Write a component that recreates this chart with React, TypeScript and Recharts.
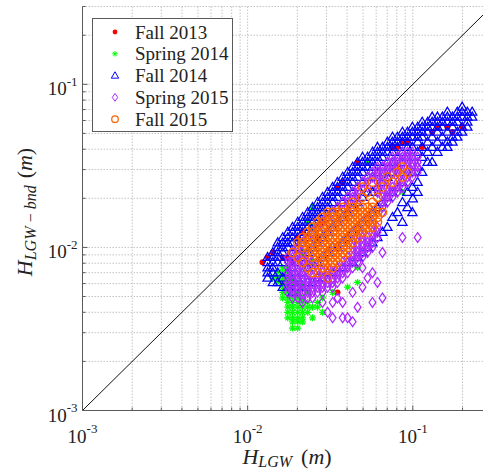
import React from "react";
import {
  CartesianGrid,
  Legend,
  ReferenceLine,
  Scatter,
  ScatterChart,
  XAxis,
  YAxis,
} from "recharts";

type Pt = [number, number];
type Col = [number, number[]]; // one H_LGW value with its H_LGW-bnd values
type Row = [number, number[]]; // one H_LGW-bnd value with its H_LGW values

// values in metres
const fall2013: Pt[] = [
  [0.0123, 0.0081], [0.0132, 0.0087], [0.0163, 0.0087], [0.0175, 0.0087],
  [0.0187, 0.0081], [0.0163, 0.0061], [0.0175, 0.0065], [0.0215, 0.0093],
  [0.0201, 0.0115], [0.035, 0.0053], [0.0865, 0.0443], [0.0928, 0.0443],
  [0.114, 0.0412], [0.141, 0.0547], [0.131, 0.051], [0.0463, 0.0333],
  [0.035, 0.0234], [0.0807, 0.0412], [0.162, 0.0547], [0.174, 0.051],
  [0.199, 0.0547], [0.0187, 0.0061], [0.0284, 0.0143], [0.0265, 0.0115],
  [0.0142, 0.0093], [0.0215, 0.0124], [0.0376, 0.0251], [0.0753, 0.0412],
];

const spring2014: Row[] = [
  [0.0176, [0.0247]],
  [0.0143, [0.0231]],
  [0.0133, [0.0247]],
  [0.0093, [0.0215]],
  [0.0081, [0.0247]],
  [0.0075, [0.0163, 0.0175, 0.0463]],
  [0.007, [0.0152, 0.0163, 0.0175]],
  [0.0065, [0.0142, 0.0152, 0.0163, 0.0175, 0.0187]],
  [0.0061, [0.0152, 0.0163, 0.0175, 0.0201, 0.0463]],
  [0.0057, [0.0163, 0.0175, 0.0187, 0.0215, 0.0403]],
  [0.0053, [0.0163, 0.0175, 0.0187, 0.0201, 0.0231, 0.0327]],
  [0.0049, [0.0163, 0.0175, 0.0187, 0.0201, 0.0215, 0.0284]],
  [0.0046, [0.0175, 0.0187, 0.0201, 0.0215, 0.0231, 0.0265]],
  [0.0043, [0.0175, 0.0187, 0.0201, 0.0215, 0.0231, 0.0247, 0.0265]],
  [0.004, [0.0175, 0.0187, 0.0201, 0.0215, 0.0231, 0.0284]],
  [0.0037, [0.0175, 0.0187, 0.0201, 0.0215, 0.0247]],
  [0.0035, [0.0187, 0.0201, 0.0215]],
  [0.0032, [0.0187, 0.0201]],
  [0.0333, [0.0532]],
  [0.0218, [0.0865]],
];

const fall2014: Col[] = [
  [0.0132, [0.0087, 0.0081, 0.0075, 0.007, 0.0065]],
  [0.0142, [0.0093, 0.0087, 0.0081, 0.0075, 0.007, 0.0061]],
  [0.0152, [0.0107, 0.01, 0.0093, 0.0087, 0.0081, 0.007, 0.0061]],
  [0.0163, [0.0115, 0.0107, 0.01, 0.0093, 0.0081, 0.0065, 0.0057]],
  [0.0175, [0.0124, 0.0115, 0.0107, 0.01, 0.0087, 0.007, 0.0057]],
  [0.0187, [0.0133, 0.0124, 0.0115, 0.0107, 0.0093, 0.0075, 0.0061, 0.0053]],
  [0.0201, [0.0143, 0.0133, 0.0124, 0.0115, 0.01, 0.0081, 0.0065, 0.0057]],
  [0.0215, [0.0153, 0.0143, 0.0133, 0.0124, 0.0107, 0.0087, 0.007, 0.0057]],
  [0.0231, [0.0164, 0.0153, 0.0143, 0.0133, 0.0115, 0.0093, 0.0075, 0.0061]],
  [0.0247, [0.0176, 0.0164, 0.0153, 0.0143, 0.0124, 0.01, 0.0081, 0.0061]],
  [0.0265, [0.0189, 0.0176, 0.0164, 0.0153, 0.0133, 0.0107, 0.0081, 0.0065]],
  [0.0284, [0.0203, 0.0189, 0.0176, 0.0164, 0.0143, 0.0115, 0.0087, 0.0065]],
  [0.0305, [0.0218, 0.0203, 0.0189, 0.0176, 0.0153, 0.0124, 0.0093, 0.007]],
  [0.0327, [0.0234, 0.0218, 0.0203, 0.0189, 0.0164, 0.0133, 0.01, 0.007]],
  [0.035, [0.0251, 0.0234, 0.0218, 0.0203, 0.0176, 0.0143, 0.01, 0.0075]],
  [0.0376, [0.027, 0.0251, 0.0234, 0.0218, 0.0189, 0.0153, 0.0107, 0.0075]],
  [0.0403, [0.0289, 0.027, 0.0251, 0.0234, 0.0203, 0.0164, 0.0115, 0.0081]],
  [0.0432, [0.0311, 0.0289, 0.027, 0.0251, 0.0218, 0.0176, 0.0124, 0.0081]],
  [0.0463, [0.0333, 0.0311, 0.0289, 0.027, 0.0234, 0.0189, 0.0133, 0.0087]],
  [0.0496, [0.0358, 0.0333, 0.0311, 0.0289, 0.0251, 0.0203, 0.0143, 0.0093]],
  [0.0532, [0.0358, 0.0333, 0.0311, 0.027, 0.0218, 0.0153, 0.01]],
  [0.057, [0.0384, 0.0358, 0.0333, 0.0311, 0.027, 0.0218, 0.0164, 0.0107]],
  [0.0611, [0.0412, 0.0384, 0.0358, 0.0333, 0.0289, 0.0234, 0.0176, 0.0115]],
  [0.0655, [0.0412, 0.0384, 0.0358, 0.0311, 0.0251, 0.0189, 0.0124]],
  [0.0702, [0.0443, 0.0412, 0.0384, 0.0333, 0.027, 0.0203, 0.0133]],
  [0.0753, [0.0475, 0.0443, 0.0412, 0.0384, 0.0333, 0.0289, 0.0218, 0.0153]],
  [0.0807, [0.0475, 0.0443, 0.0412, 0.0358, 0.0311, 0.0234, 0.0164]],
  [0.0865, [0.051, 0.0475, 0.0443, 0.0384, 0.0333, 0.0251, 0.0189, 0.0143]],
  [0.0928, [0.051, 0.0475, 0.0443, 0.0412, 0.0358, 0.0289, 0.0218, 0.0176]],
  [0.0994, [0.0547, 0.051, 0.0475, 0.0412, 0.0358, 0.0289, 0.0234, 0.0164]],
  [0.1, [0.0199]],
  [0.107, [0.0547, 0.051, 0.0475, 0.0443, 0.0384, 0.0311, 0.0251, 0.0218]],
  [0.114, [0.0587, 0.0547, 0.051, 0.0475, 0.0412, 0.0358, 0.0289]],
  [0.123, [0.0587, 0.0547, 0.051, 0.0443, 0.0384, 0.0333]],
  [0.131, [0.0631, 0.0587, 0.0547, 0.0475, 0.0412, 0.0333]],
  [0.141, [0.0631, 0.0587, 0.0547, 0.051, 0.0443, 0.0384]],
  [0.151, [0.0631, 0.0587, 0.0547, 0.0475, 0.0412]],
  [0.162, [0.0677, 0.0631, 0.0587, 0.051, 0.0443, 0.0412]],
  [0.174, [0.0631, 0.0587, 0.0547, 0.0475, 0.0443]],
  [0.186, [0.0677, 0.0631, 0.0587, 0.051, 0.0475]],
  [0.199, [0.0727, 0.0677, 0.0631, 0.0547, 0.051]],
  [0.214, [0.0677, 0.0631, 0.0587, 0.0547]],
  [0.229, [0.0677, 0.0631]],
];

const spring2015: Col[] = [
  [0.0175, [0.0087, 0.0081, 0.0075, 0.007, 0.0065, 0.0061, 0.0057, 0.0053]],
  [0.0187, [0.0093, 0.0087, 0.0081, 0.0075, 0.007, 0.0065, 0.0061, 0.0057, 0.0053, 0.0049]],
  [0.0201, [0.01, 0.0093, 0.0087, 0.0081, 0.0075, 0.007, 0.0065, 0.0061, 0.0057, 0.0053, 0.0049]],
  [0.0215, [0.0107, 0.0093, 0.0087, 0.0081, 0.0075, 0.007, 0.0065, 0.0061, 0.0057, 0.0053, 0.0049, 0.0046]],
  [0.0231, [0.0115, 0.0087, 0.0081, 0.007, 0.0065, 0.0061, 0.0057, 0.0053, 0.0049]],
  [0.0247, [0.0124, 0.0081, 0.0075, 0.0065, 0.0061, 0.0057, 0.0053, 0.0049]],
  [0.0265, [0.0133, 0.0075, 0.007, 0.0065, 0.0061, 0.0057, 0.0053]],
  [0.0284, [0.0143, 0.007, 0.0065, 0.0061, 0.0057, 0.0053, 0.0046]],
  [0.0305, [0.0153, 0.0075, 0.007, 0.0065, 0.0061, 0.0057, 0.004]],
  [0.0327, [0.0164, 0.007, 0.0065, 0.0061, 0.0057, 0.0046, 0.0037]],
  [0.035, [0.0176, 0.0075, 0.007, 0.0065, 0.0061, 0.0049]],
  [0.0376, [0.0189, 0.0081, 0.0075, 0.007, 0.0065, 0.0046, 0.0037]],
  [0.0403, [0.0203, 0.0189, 0.0176, 0.0087, 0.0081, 0.0075, 0.007, 0.0037]],
  [0.0432, [0.0218, 0.0203, 0.0107, 0.01, 0.0093, 0.0087, 0.0081, 0.0075, 0.0053, 0.0035]],
  [0.0463, [0.0234, 0.0218, 0.0203, 0.0189, 0.0115, 0.0107, 0.01, 0.0093, 0.0087, 0.0081, 0.0043]],
  [0.0496, [0.0251, 0.0124, 0.0115, 0.0107, 0.01, 0.0093, 0.0087, 0.0075, 0.0057]],
  [0.0532, [0.027, 0.0251, 0.0234, 0.0115, 0.0107, 0.01, 0.0093, 0.0065]],
  [0.057, [0.0289, 0.027, 0.0143, 0.0133, 0.0124, 0.0115, 0.0107, 0.01, 0.007, 0.0046]],
  [0.0611, [0.0311, 0.0289, 0.027, 0.0251, 0.0234, 0.0218, 0.0133, 0.0124, 0.0115, 0.0061]],
  [0.0655, [0.0311, 0.0289, 0.027, 0.0251, 0.0218, 0.0203, 0.0189, 0.0176, 0.0164, 0.0093, 0.0049]],
  [0.0702, [0.0333, 0.0311, 0.0289, 0.0251, 0.0234, 0.0218, 0.0203, 0.0189]],
  [0.0753, [0.0358, 0.0333, 0.0311, 0.0289, 0.0234, 0.0218, 0.0203]],
  [0.0807, [0.0358, 0.0333, 0.0311, 0.0289, 0.027, 0.0251, 0.0234, 0.0218]],
  [0.0865, [0.0384, 0.0358, 0.0333, 0.0289, 0.0251, 0.0234, 0.0115]],
  [0.0928, [0.0384, 0.0358, 0.0333, 0.0311, 0.027, 0.0251]],
  [0.0994, [0.0384, 0.0358, 0.0333, 0.0311, 0.0289, 0.027]],
  [0.107, [0.0358, 0.0333, 0.0311, 0.0289, 0.0115]],
];

const fall2015: Row[] = [
  [0.0176, [0.0376, 0.0432, 0.0463, 0.0496, 0.0532, 0.057]],
  [0.0164, [0.0305, 0.0327, 0.035, 0.0376, 0.0403, 0.0432, 0.0463, 0.0496, 0.0532, 0.057, 0.0611, 0.0655]],
  [0.0153, [0.0284, 0.0305, 0.0327, 0.035, 0.0376, 0.0403, 0.0432, 0.0463, 0.0496, 0.0532, 0.057, 0.0611]],
  [0.0143, [0.0265, 0.0284, 0.0305, 0.0327, 0.035, 0.0376, 0.0403, 0.0432, 0.0463, 0.0496, 0.0532, 0.057, 0.0611]],
  [0.0133, [0.0247, 0.0265, 0.0284, 0.0305, 0.0327, 0.035, 0.0376, 0.0403, 0.0432, 0.0463, 0.0496, 0.0532, 0.057]],
  [0.0124, [0.0231, 0.0247, 0.0265, 0.0284, 0.0305, 0.0327, 0.035, 0.0376, 0.0403, 0.0432, 0.0463, 0.0496, 0.0532]],
  [0.0115, [0.0215, 0.0231, 0.0247, 0.0265, 0.0284, 0.0305, 0.0327, 0.035, 0.0376, 0.0403, 0.0432, 0.0463]],
  [0.0107, [0.0201, 0.0215, 0.0231, 0.0247, 0.0265, 0.0284, 0.0305, 0.0327, 0.035, 0.0376, 0.0403, 0.0432]],
  [0.01, [0.0215, 0.0231, 0.0247, 0.0265, 0.0284, 0.0305, 0.0327, 0.035, 0.0376, 0.0403]],
  [0.0093, [0.0187, 0.0231, 0.0247, 0.0265, 0.0284, 0.0305, 0.0327, 0.035, 0.0376, 0.0403]],
  [0.0087, [0.0201, 0.0247, 0.0265, 0.0284, 0.0305, 0.0327, 0.035, 0.0376]],
  [0.0081, [0.0215, 0.0265, 0.0284, 0.0305, 0.0327, 0.035]],
  [0.0075, [0.0231, 0.0284, 0.0305, 0.0327]],
  [0.007, [0.0247, 0.0265]],
  [0.0065, [0.0305]],
  [0.0189, [0.0432, 0.057]],
  [0.0203, [0.0496, 0.0611]],
  [0.0218, [0.0532]],
  [0.0234, [0.0496, 0.0655]],
  [0.0251, [0.057, 0.0753]],
  [0.027, [0.0702, 0.0865]],
  [0.0289, [0.0807, 0.0928]],
  [0.0311, [0.0865]],
];

const axisTicks = [
  0.001, 0.002, 0.003, 0.004, 0.005, 0.006, 0.007, 0.008, 0.009,
  0.01, 0.02, 0.03, 0.04, 0.05, 0.06, 0.07, 0.08, 0.09,
  0.1, 0.2, 0.3,
];
const majorTicks = [0.001, 0.01, 0.1];
const majorExponents = ["-3", "-2", "-1"];
const oneToOne = [0.001, 0.3];

const fromCols = (cols: Col[]) => cols.flatMap(([x, ys]) => ys.map((y) => ({ x, y })));
const fromRows = (rows: Row[]) => rows.flatMap(([y, xs]) => xs.map((x) => ({ x, y })));

const series = [
  { name: "Fall 2013", data: fall2013.map(([x, y]) => ({ x, y })), color: "#ff0000", marker: "dot" },
  { name: "Spring 2014", data: fromRows(spring2014), color: "#00ff00", marker: "star" },
  { name: "Fall 2014", data: fromCols(fall2014), color: "#0000ff", marker: "tri" },
  { name: "Spring 2015", data: fromCols(spring2015), color: "#ad28ff", marker: "diamond" },
  { name: "Fall 2015", data: fromRows(fall2015), color: "#ff6400", marker: "circle" },
];

const FONT = "'Liberation Serif', 'Times New Roman', serif";
const AXIS = "#5a5a5a";

function Marker({ kind, cx, cy, color, s = 1, w = 1.25 }: any) {
  if (kind === "dot") return <circle cx={cx} cy={cy} r={3 * s} fill={color} />;
  if (kind === "circle")
    return <circle cx={cx} cy={cy} r={4.1 * s} fill="none" stroke={color} strokeWidth={w + 0.25} />;
  if (kind === "tri") {
    const p = `${cx},${cy - 4.8 * s} ${cx - 4.6 * s},${cy + 3.2 * s} ${cx + 4.6 * s},${cy + 3.2 * s}`;
    return <polygon points={p} fill="none" stroke={color} strokeWidth={w} />;
  }
  if (kind === "diamond") {
    const p = `${cx},${cy - 4.9 * s} ${cx + 3.4 * s},${cy} ${cx},${cy + 4.9 * s} ${cx - 3.4 * s},${cy}`;
    return <polygon points={p} fill="none" stroke={color} strokeWidth={w} />;
  }
  const r = 3.5 * s;
  const d = r * 0.7;
  return (
    <g stroke={color} strokeWidth={w}>
      <line x1={cx - r} x2={cx + r} y1={cy} y2={cy} />
      <line x1={cx} x2={cx} y1={cy - r} y2={cy + r} />
      <line x1={cx - d} x2={cx + d} y1={cy - d} y2={cy + d} />
      <line x1={cx - d} x2={cx + d} y1={cy + d} y2={cy - d} />
    </g>
  );
}

function BottomTick({ x, y, payload }: any) {
  const i = majorTicks.indexOf(payload.value);
  return (
    <g>
      <line x1={x} x2={x} y1={y} y2={y - (i >= 0 ? 5 : 3)} stroke={AXIS} />
      {i >= 0 && (
        <text x={x} y={y + 32} textAnchor="middle" fontSize={19} fontFamily={FONT} fill="#222">
          10<tspan dy={-9.5} fontSize={13}>{majorExponents[i]}</tspan>
        </text>
      )}
    </g>
  );
}

function TopTick({ x, y, payload }: any) {
  const major = majorTicks.indexOf(payload.value) >= 0;
  return <line x1={x} x2={x} y1={y} y2={y + (major ? 5 : 3)} stroke={AXIS} />;
}

function LeftTick({ x, y, payload }: any) {
  const i = majorTicks.indexOf(payload.value);
  return (
    <g>
      <line x1={x} x2={x + (i >= 0 ? 5 : 3)} y1={y} y2={y} stroke={AXIS} />
      {i >= 0 && (
        <text x={x - 5} y={y + 11} textAnchor="end" fontSize={19} fontFamily={FONT} fill="#222">
          10<tspan dy={-9.5} fontSize={13}>{majorExponents[i]}</tspan>
        </text>
      )}
    </g>
  );
}

function XLabel() {
  return (
    <text x={287} y={464} textAnchor="middle" fontSize={22} fontFamily={FONT} fill="#222">
      <tspan fontStyle="italic">H</tspan>
      <tspan fontStyle="italic" fontSize={16} dy={3}>LGW</tspan>
      <tspan dy={-3} dx={9}>(</tspan>
      <tspan fontStyle="italic">m</tspan>
      <tspan>)</tspan>
    </text>
  );
}

function YLabel() {
  return (
    <text
      x={32}
      y={212}
      transform="rotate(-90, 32, 212)"
      textAnchor="middle"
      fontSize={22}
      fontFamily={FONT}
      fill="#222"
    >
      <tspan fontStyle="italic">H</tspan>
      <tspan fontStyle="italic" fontSize={16} dy={4}>{"LGW\u2009\u2212\u2009bnd"}</tspan>
      <tspan dy={-4} dx={7}>(</tspan>
      <tspan fontStyle="italic">m</tspan>
      <tspan>)</tspan>
    </text>
  );
}

function LegendBox() {
  return (
    <svg width={141} height={114} style={{ display: "block" }}>
      <rect x={0.5} y={0.5} width={140} height={113} fill="#fff" stroke={AXIS} />
      {series.map((s, i) => {
        const cy = 14 + i * 21.8;
        return (
          <g key={s.name}>
            <Marker kind={s.marker} cx={23} cy={cy} color={s.color} s={0.8} w={1} />
            <text x={43} y={cy + 6.5} fontSize={19} fontFamily={FONT} fill="#222">
              {s.name}
            </text>
          </g>
        );
      })}
    </svg>
  );
}

export default function App() {
  return (
    <div
      style={{
        position: "absolute",
        left: 0,
        top: 0,
        width: 483,
        height: 471,
        overflow: "hidden",
        background: "#fff",
      }}
    >
      <ScatterChart
        width={500}
        height={471}
        margin={{ top: 6.5, right: 8.4, bottom: 0, left: 0 }}
      >
        <CartesianGrid stroke="#c4c4c4" strokeDasharray="1.5 1.5" />
        <XAxis
          type="number"
          dataKey="x"
          scale="log"
          domain={[0.001, 0.3]}
          allowDataOverflow
          ticks={axisTicks}
          interval={0}
          height={60.5}
          tickSize={0}
          tickMargin={0}
          tickLine={false}
          axisLine={{ stroke: AXIS }}
          tick={<BottomTick />}
          label={<XLabel />}
        />
        <XAxis
          xAxisId="top"
          orientation="top"
          type="number"
          dataKey="x"
          scale="log"
          domain={[0.001, 0.3]}
          allowDataOverflow
          ticks={axisTicks}
          interval={0}
          height={0}
          tickSize={0}
          tickMargin={0}
          tickLine={false}
          axisLine={{ stroke: AXIS }}
          tick={<TopTick />}
        />
        <YAxis
          type="number"
          dataKey="y"
          scale="log"
          domain={[0.001, 0.3]}
          allowDataOverflow
          ticks={axisTicks}
          interval={0}
          width={82.5}
          tickSize={0}
          tickMargin={0}
          tickLine={false}
          axisLine={{ stroke: AXIS }}
          tick={<LeftTick />}
          label={<YLabel />}
        />
        <ReferenceLine
          segment={[
            { x: oneToOne[0], y: oneToOne[0] },
            { x: oneToOne[1], y: oneToOne[1] },
          ]}
          stroke="#111"
          strokeWidth={1}
        />
        {series.map((s) => (
          <Scatter
            key={s.name}
            name={s.name}
            data={s.data}
            isAnimationActive={false}
            shape={(p: any) => <Marker kind={s.marker} cx={p.cx} cy={p.cy} color={s.color} />}
          />
        ))}
        <Legend
          layout="vertical"
          align="center"
          verticalAlign="middle"
          wrapperStyle={{ left: 92, top: 17.5, width: 141, height: 114 }}
          content={() => <LegendBox />}
        />
      </ScatterChart>
    </div>
  );
}
